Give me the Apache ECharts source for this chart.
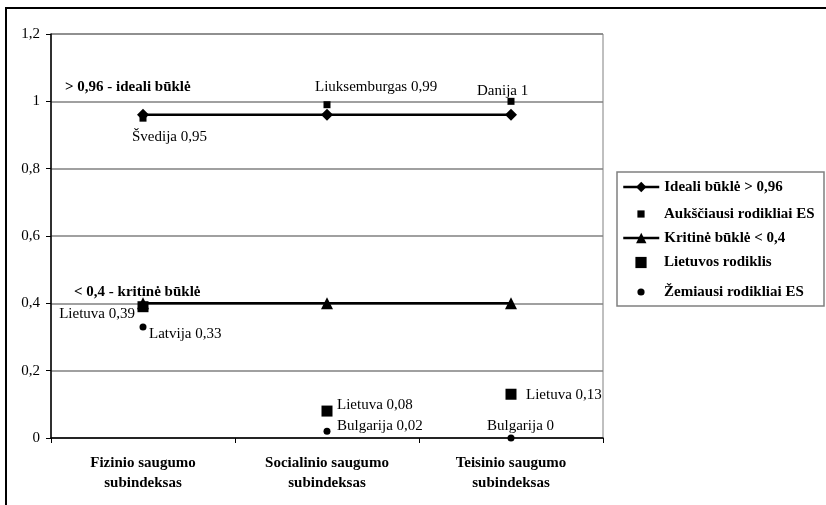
<!DOCTYPE html>
<html><head><meta charset="utf-8">
<script src="https://cdn.jsdelivr.net/npm/echarts@6/dist/echarts.min.js"></script>
<style>html,body{margin:0;padding:0;background:#fff}#c{width:826px;height:505px}</style>
</head><body><div id="c"></div>
<script>
var categories = ['Fizinio saugumo\nsubindeksas', 'Socialinio saugumo\nsubindeksas', 'Teisinio saugumo\nsubindeksas'];
var idealiValues = [0.96, 0.96, 0.96];
var aukscValues = [0.95, 0.99, 1];
var aukscNames = ['Švedija', 'Liuksemburgas', 'Danija'];
var kritineValues = [0.4, 0.4, 0.4];
var lietuvaValues = [0.39, 0.08, 0.13];
var lietuvaNames = ['Lietuva', 'Lietuva', 'Lietuva'];
var zemValues = [0.33, 0.02, 0];
var zemNames = ['Latvija', 'Bulgarija', 'Bulgarija'];
var yTicks = [0, 0.2, 0.4, 0.6, 0.8, 1, 1.2];
var seriesNames = ['Ideali būklė > 0,96', 'Aukščiausi rodikliai ES', 'Kritinė būklė < 0,4', 'Lietuvos rodiklis', 'Žemiausi rodikliai ES'];

var FONT = 'Liberation Serif';
function fmt(v){ return String(v).replace('.', ','); }

// label layout (offset from point, alignment)
var aukscLab = [[-11, 19, 'left'], [-12, -18, 'left'], [-34, -10, 'left']];
var lietLab = [[-8, 7, 'right'], [10, -6, 'left'], [15, 1, 'left']];
var zemLab = [[6, 7, 'left'], [10, -5, 'left'], [-24, -12, 'left']];

function labelled(values, names, lay) {
  return values.map(function (v, i) {
    return {
      value: v,
      label: {
        show: true, position: 'inside', offset: [lay[i][0], lay[i][1]],
        align: lay[i][2], verticalAlign: 'middle',
        formatter: names[i] + ' ' + fmt(v),
        fontFamily: FONT, fontSize: 15, color: '#000'
      }
    };
  });
}

var chart = echarts.init(document.getElementById('c'), null, {renderer: 'canvas'});
var legendRows = [
  {name: seriesNames[0], top: 179.5, h: 13, line: true},
  {name: seriesNames[1], top: 206.5, h: 9, line: false},
  {name: seriesNames[2], top: 230.5, h: 13, line: true},
  {name: seriesNames[3], top: 255, h: 14, line: false},
  {name: seriesNames[4], top: 284.5, h: 9, line: false}
];
var legends = legendRows.map(function (r) {
  return {
    data: [r.name], left: 622, top: r.top, padding: 0,
    itemWidth: 36, itemHeight: r.h, itemGap: 0, selectedMode: false,
    lineStyle: r.line ? {width: 2.5, color: '#000'} : {opacity: 0},
    textStyle: {fontFamily: FONT, fontSize: 15, fontWeight: 'bold', color: '#000'}
  };
});

function pointSeries(name, data, symbol, size, z) {
  return {name: name, type: 'line', data: data, symbol: symbol, symbolSize: size, showAllSymbol: true,
    color: '#000', itemStyle: {color: '#000'}, lineStyle: {opacity: 0, width: 1}, z: z};
}

chart.setOption({
  animation: false,
  backgroundColor: '#fff',
  textStyle: {fontFamily: FONT},
  grid: {left: 51, right: 223, top: 34, bottom: 67, show: true, borderColor: '#808080', borderWidth: 1},
  legend: legends,
  xAxis: {
    type: 'category', data: categories, boundaryGap: true,
    axisLine: {lineStyle: {color: '#000', width: 1.5}},
    axisTick: {show: true, length: 5, lineStyle: {color: '#000'}},
    axisLabel: {fontFamily: FONT, fontSize: 15, fontWeight: 'bold', color: '#000', lineHeight: 20, margin: 15}
  },
  yAxis: {
    type: 'value', min: 0, max: 1.2, interval: 0.2,
    axisLine: {show: true, lineStyle: {color: '#000', width: 1.5}},
    axisTick: {show: true, length: 5, lineStyle: {color: '#000'}},
    splitLine: {lineStyle: {color: '#808080', width: 1.5}},
    axisLabel: {fontFamily: FONT, fontSize: 15, color: '#000', margin: 11,
      formatter: function (v) { return fmt(Math.round(v * 10) / 10); }}
  },
  series: [
    {name: seriesNames[0], type: 'line', data: idealiValues, symbol: 'diamond', symbolSize: 12,
      color: '#000', lineStyle: {color: '#000', width: 2.5}, itemStyle: {color: '#000'}, z: 5},
    pointSeries(seriesNames[1], labelled(aukscValues, aukscNames, aukscLab), 'rect', 7, 3),
    {name: seriesNames[2], type: 'line', data: kritineValues, symbol: 'triangle', symbolSize: 12,
      color: '#000', lineStyle: {color: '#000', width: 2.5}, itemStyle: {color: '#000'}, z: 4},
    pointSeries(seriesNames[3], labelled(lietuvaValues, lietuvaNames, lietLab), 'rect', 11, 6),
    pointSeries(seriesNames[4], labelled(zemValues, zemNames, zemLab), 'circle', 7, 6)
  ],
  graphic: [
    {type: 'rect', shape: {x: 6, y: 8, width: 840, height: 520}, style: {fill: 'none', stroke: '#000', lineWidth: 2}, silent: true, z: 0},
    {type: 'rect', shape: {x: 617, y: 172, width: 207, height: 134}, style: {fill: 'none', stroke: '#808080', lineWidth: 1.5}, silent: true},
    {type: 'text', left: 65, top: 80, style: {text: '> 0,96 - ideali būklė', font: 'bold 15px "Liberation Serif"', fill: '#000'}},
    {type: 'text', left: 74, top: 285, style: {text: '< 0,4 - kritinė būklė', font: 'bold 15px "Liberation Serif"', fill: '#000'}}
  ]
});
</script>
</body></html>
